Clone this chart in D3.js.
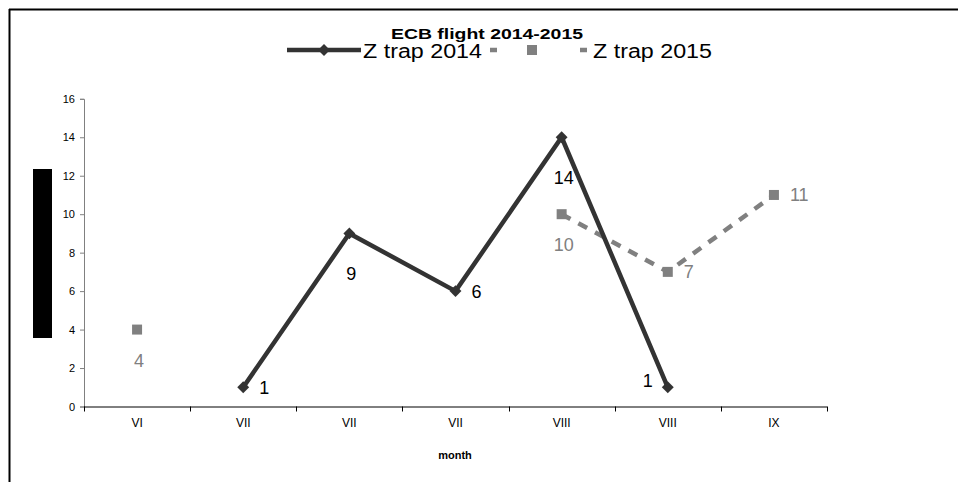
<!DOCTYPE html>
<html><head><meta charset="utf-8">
<script src="https://cdn.jsdelivr.net/npm/d3@7"></script>
<style>body{margin:0;background:#fff}svg{display:block}text{font-family:"Liberation Sans",Arial,sans-serif}</style>
</head><body>
<svg id="c" width="958" height="482"></svg>
<script>
const title = "ECB flight 2014-2015";
const xTitle = "month";
const categories = ["VI","VII","VII","VII","VIII","VIII","IX"];
const series2014 = [null, 1, 9, 6, 14, 1, null];
const series2015 = [4, null, null, null, 10, 7, 11];
const labelPos2014 = [null, "right", "below", "right", "below", "left", null];
const labelPos2015 = ["below", null, null, null, "below", "right", "right"];
const yTicks = [0,2,4,6,8,10,12,14,16];
const seriesNames = ["Z trap 2014", "Z trap 2015"];

const svg = d3.select("#c");
const FF = "'Liberation Sans',Arial,sans-serif";
// outer frame (top + left edges)
svg.append("line").attr("x1",9).attr("x2",958).attr("y1",9.5).attr("y2",9.5).attr("stroke","#000").attr("stroke-width",2);
svg.append("line").attr("x1",9.5).attr("x2",9.5).attr("y1",9).attr("y2",482).attr("stroke","#000").attr("stroke-width",2);

const L = 84, R = 827, T = 98.8, B = 406.5;
const idx = categories.map((d,i)=>i);
const x = d3.scaleBand().domain(idx).range([L,R]);
const y = d3.scaleLinear().domain([0,16]).range([B,T]);
const cx = i => x(i) + x.bandwidth()/2;

// title
svg.append("text").attr("x",487).attr("y",38.5).attr("text-anchor","middle")
  .attr("font-weight","bold").attr("font-size",15).attr("textLength",192).attr("lengthAdjust","spacingAndGlyphs").text(title);

// y axis
const yAxis = svg.append("g").attr("transform",`translate(${L},0)`)
  .call(d3.axisLeft(y).tickValues(yTicks).tickSize(4).tickPadding(5));
yAxis.select(".domain").attr("stroke","#808080");
yAxis.selectAll(".tick line").attr("stroke","#808080");
yAxis.selectAll("text").attr("font-size",11).attr("fill","#000").style("font-family",FF);

// x axis
const xAxis = svg.append("g").attr("transform",`translate(0,${B})`)
  .call(d3.axisBottom(x).tickFormat(i=>categories[i]).tickSize(0).tickPadding(12));
xAxis.select(".domain").attr("stroke","#000").attr("d",`M${L},0.5H${R}`);
xAxis.selectAll("text").attr("font-size",12).attr("fill","#000").style("font-family",FF);
// boundary ticks
const bounds = idx.map(i=>x(i)).concat([R]);
svg.append("g").selectAll("line").data(bounds).join("line")
  .attr("x1",d=>Math.round(d)+0.5).attr("x2",d=>Math.round(d)+0.5).attr("y1",B).attr("y2",B+5).attr("stroke","#000");

svg.append("text").attr("x",455).attr("y",459).attr("text-anchor","middle").attr("font-weight","bold").attr("font-size",11).text(xTitle);

// y axis title (redacted block)
svg.append("rect").attr("x",33).attr("y",169).attr("width",19).attr("height",169).attr("fill","#000");

// series lines
const line = d3.line().defined(d=>d.v!=null).x(d=>cx(d.i)).y(d=>y(d.v));
const d14 = series2014.map((v,i)=>({v,i}));
const d15 = series2015.map((v,i)=>({v,i}));
const c14 = "#333333", c15 = "#808080";

svg.append("path").datum(d15).attr("d",line).attr("fill","none").attr("stroke",c15).attr("stroke-width",4.5).attr("stroke-dasharray","10,9");
svg.append("path").datum(d14).attr("d",line).attr("fill","none").attr("stroke",c14).attr("stroke-width",4.5).attr("stroke-linejoin","miter");

const diamond = d3.symbol().type(d3.symbolDiamond2).size(90);
svg.append("g").selectAll("path").data(d14.filter(d=>d.v!=null)).join("path")
  .attr("d",diamond).attr("transform",d=>`translate(${cx(d.i)},${y(d.v)})`).attr("fill",c14);
svg.append("g").selectAll("rect").data(d15.filter(d=>d.v!=null)).join("rect")
  .attr("x",d=>cx(d.i)-5).attr("y",d=>y(d.v)-5).attr("width",10).attr("height",10).attr("fill",c15);

function lbl(d, pos, belowOff){
  const px = cx(d.i), py = y(d.v);
  if(pos==="right") return {x:px+16, y:py+6.5, a:"start"};
  if(pos==="left") return {x:px-15, y:py, a:"end"};
  return {x:px+2, y:py+belowOff, a:"middle"};
}
function labels(data, posArr, col, belowOff){
  svg.append("g").selectAll("text").data(data.filter(d=>d.v!=null)).join("text")
    .each(function(d){const p=lbl(d,posArr[d.i],belowOff); d3.select(this).attr("x",p.x).attr("y",p.y).attr("text-anchor",p.a);})
    .attr("font-size",18).attr("fill",col).text(d=>d.v);
}
labels(d14, labelPos2014, "#000", 47);
labels(d15, labelPos2015, c15, 37);

// legend
const lg = svg.append("g");
lg.append("line").attr("x1",287).attr("x2",361).attr("y1",50).attr("y2",50).attr("stroke",c14).attr("stroke-width",4.5);
lg.append("path").attr("d",diamond).attr("transform","translate(324,50)").attr("fill",c14);
lg.append("text").attr("x",363).attr("y",57.5).attr("font-size",20).attr("textLength",119).attr("lengthAdjust","spacingAndGlyphs").text(seriesNames[0]);
lg.append("line").attr("x1",490).attr("x2",587).attr("y1",50).attr("y2",50).attr("stroke",c15).attr("stroke-width",4.5).attr("stroke-dasharray","7,83,7");
lg.append("rect").attr("x",527).attr("y",45).attr("width",10).attr("height",10).attr("fill",c15);
lg.append("text").attr("x",593).attr("y",57.5).attr("font-size",20).attr("textLength",119).attr("lengthAdjust","spacingAndGlyphs").text(seriesNames[1]);
</script>
</body></html>
